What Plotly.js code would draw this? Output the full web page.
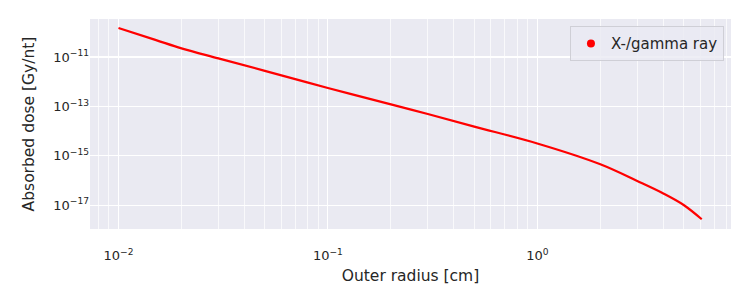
<!DOCTYPE html>
<html>
<head>
<meta charset="utf-8">
<script src="https://cdn.plot.ly/plotly-3.0.1.min.js"></script>
<style>html,body{margin:0;padding:0;background:#fff;}#chart{width:750px;height:300px;}</style>
</head>
<body>
<div id="chart"></div>
<script>
// Outer radius [cm]
const radius = [0.01, 0.015, 0.02, 0.03, 0.05, 0.1, 0.2, 0.3, 0.5, 1.0, 2, 3, 4, 5, 6.1];
// Absorbed dose [Gy/nt]
const dose = [1.49e-10, 4.97e-11, 2.25e-11, 8.85e-12, 2.77e-12, 5.57e-13, 1.21e-13, 4.94e-14,
  1.53e-14, 3.17e-15, 4.56e-16, 9.64e-17, 3.01e-17, 1.03e-17, 2.72e-18];
const seriesName = 'X-/gamma ray';
const xTickVals = [0.01, 0.1, 1];
const xTickText = ['10<sup>−2</sup>', '10<sup>−1</sup>', '10<sup>0</sup>'];
const yTickVals = [1e-11, 1e-13, 1e-15, 1e-17];
const yTickText = ['10<sup>−11</sup>', '10<sup>−13</sup>', '10<sup>−15</sup>', '10<sup>−17</sup>'];

const FONT = 'DejaVu Sans, sans-serif';
const traces = [
  {x: radius, y: dose, mode: 'lines', line: {color: '#ff0000', width: 2.2, shape: 'spline', smoothing: 1.0}, showlegend: false, hoverinfo: 'skip'},
  {x: [null], y: [null], mode: 'markers', name: seriesName, marker: {color: '#ff0000', size: 8}, showlegend: true}
];
const layout = {
  width: 750, height: 300,
  margin: {l: 90, r: 19, t: 19, b: 71},
  paper_bgcolor: '#ffffff', plot_bgcolor: '#eaeaf2',
  font: {family: FONT, size: 13, color: '#262626'},
  xaxis: {
    type: 'log', range: [-2.136, 0.925],
    tickmode: 'array', tickvals: xTickVals, ticktext: xTickText,
    showgrid: true, gridcolor: '#ffffff', gridwidth: 1.2,
    minor: {dtick: 'D1', showgrid: true, gridcolor: '#ffffff', gridwidth: 0.7},
    zeroline: false, showline: false, ticks: '', ticklen: 0,
    ticklabelstandoff: 17,
    tickfont: {size: 13, color: '#262626'},
    title: {text: 'Outer radius [cm]', font: {size: 15.5, color: '#262626'}, standoff: 8}
  },
  yaxis: {
    type: 'log', range: [-17.96, -9.46],
    tickmode: 'array', tickvals: yTickVals, ticktext: yTickText,
    showgrid: true, gridcolor: '#ffffff', gridwidth: 1.2,
    zeroline: false, showline: false, ticks: '',
    tickfont: {size: 13, color: '#262626'},
    title: {text: 'Absorbed dose [Gy/nt]', font: {size: 15.5, color: '#262626'}, standoff: 14}
  },
  legend: {
    x: 0.989, y: 0.965, xanchor: 'right', yanchor: 'top',
    bgcolor: 'rgba(234,234,242,0.8)', bordercolor: '#cfcfd6', borderwidth: 1,
    font: {size: 15, color: '#262626'}
  },
  showlegend: true
};
Plotly.newPlot('chart', traces, layout, {displayModeBar: false, staticPlot: true});
</script>
</body>
</html>
